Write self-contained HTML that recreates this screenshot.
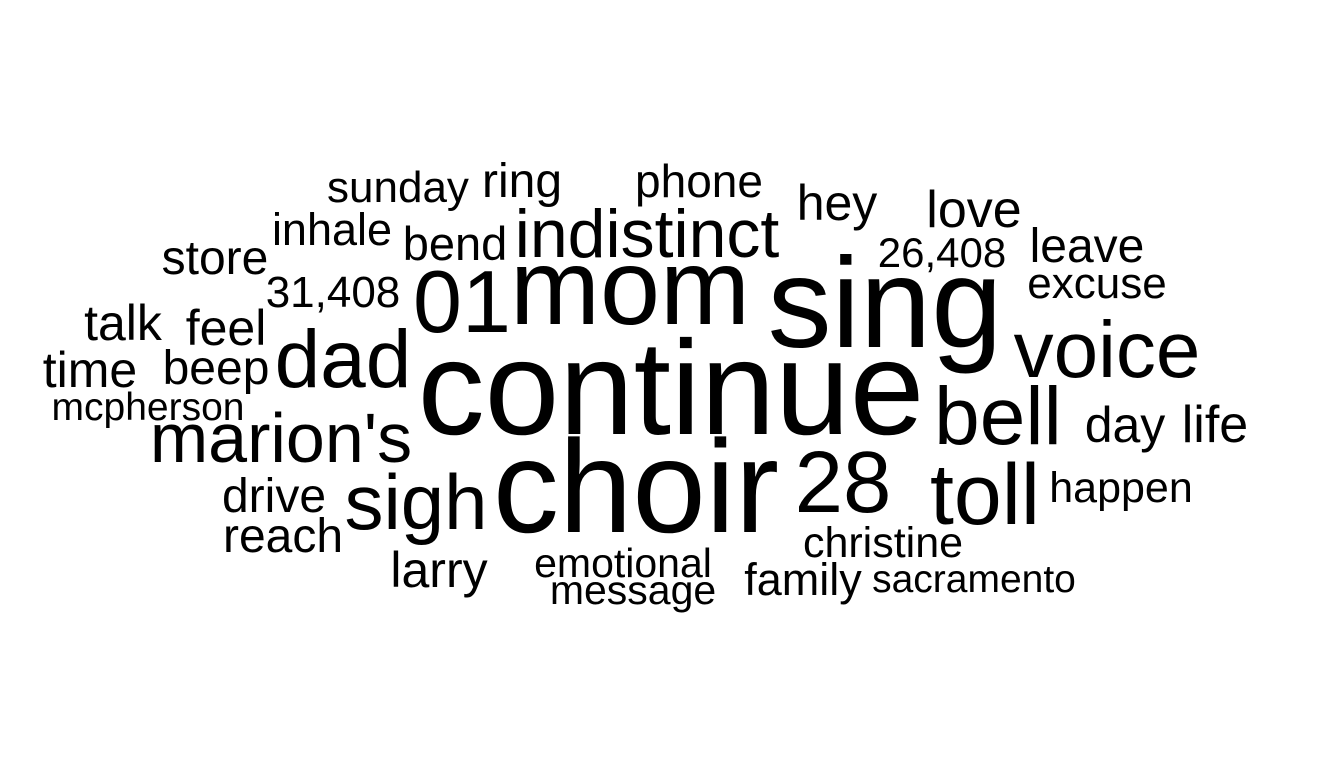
<!DOCTYPE html>
<html><head><meta charset="utf-8"><style>
html,body{margin:0;padding:0;background:#fff;width:1344px;height:768px;overflow:hidden}
svg text{font-family:"Liberation Sans",Arial,sans-serif;fill:#000}
</style></head><body>
<svg id="cloud" width="1344" height="768" viewBox="0 0 1344 768" xmlns="http://www.w3.org/2000/svg"></svg>
<script>
const words = ["continue","sing","choir","mom","01","dad","indistinct","voice","bell","toll","28","sigh","marion's","ring","sunday","phone","hey","love","inhale","bend","store","26,408","leave","excuse","31,408","talk","feel","time","beep","mcpherson","day","life","happen","drive","reach","christine","larry","emotional","message","family","sacramento"];
const sizes = [134,128,132,108,88,82,68,80,82,86,87,78,70,48,44,46,50,52,45,47,48,42,48,44,44,50,50,50,48,39,50,52,43,48,48,43,50,41,41,45,39];
// layout: ink centre x, baseline y
const layoutX = [671,885,636,630,462,343,647,1107,998,985,843,416,281,522,398,699,837,974,332,455,215,942,1087,1097,333,123,226,90,216,148,1125,1215,1121,274,283,883,439,623,633,803,974];
const layoutY = [434,347,532,324,332,387,257,377,444,524,512,529,462,197,202,197,220,227,245,260,274,267,262,298,307,340,345,387,384,420,442,442,502,512,552,557,587,577,604,595,592];
const svg = document.getElementById('cloud');
const NS = 'http://www.w3.org/2000/svg';
for (let i = 0; i < words.length; i++) {
  const t = document.createElementNS(NS, 'text');
  t.setAttribute('x', layoutX[i]);
  t.setAttribute('y', layoutY[i]);
  t.setAttribute('text-anchor', 'middle');
  t.setAttribute('font-size', sizes[i]);
  t.textContent = words[i];
  
  
  svg.appendChild(t);
}
</script>
</body></html>
